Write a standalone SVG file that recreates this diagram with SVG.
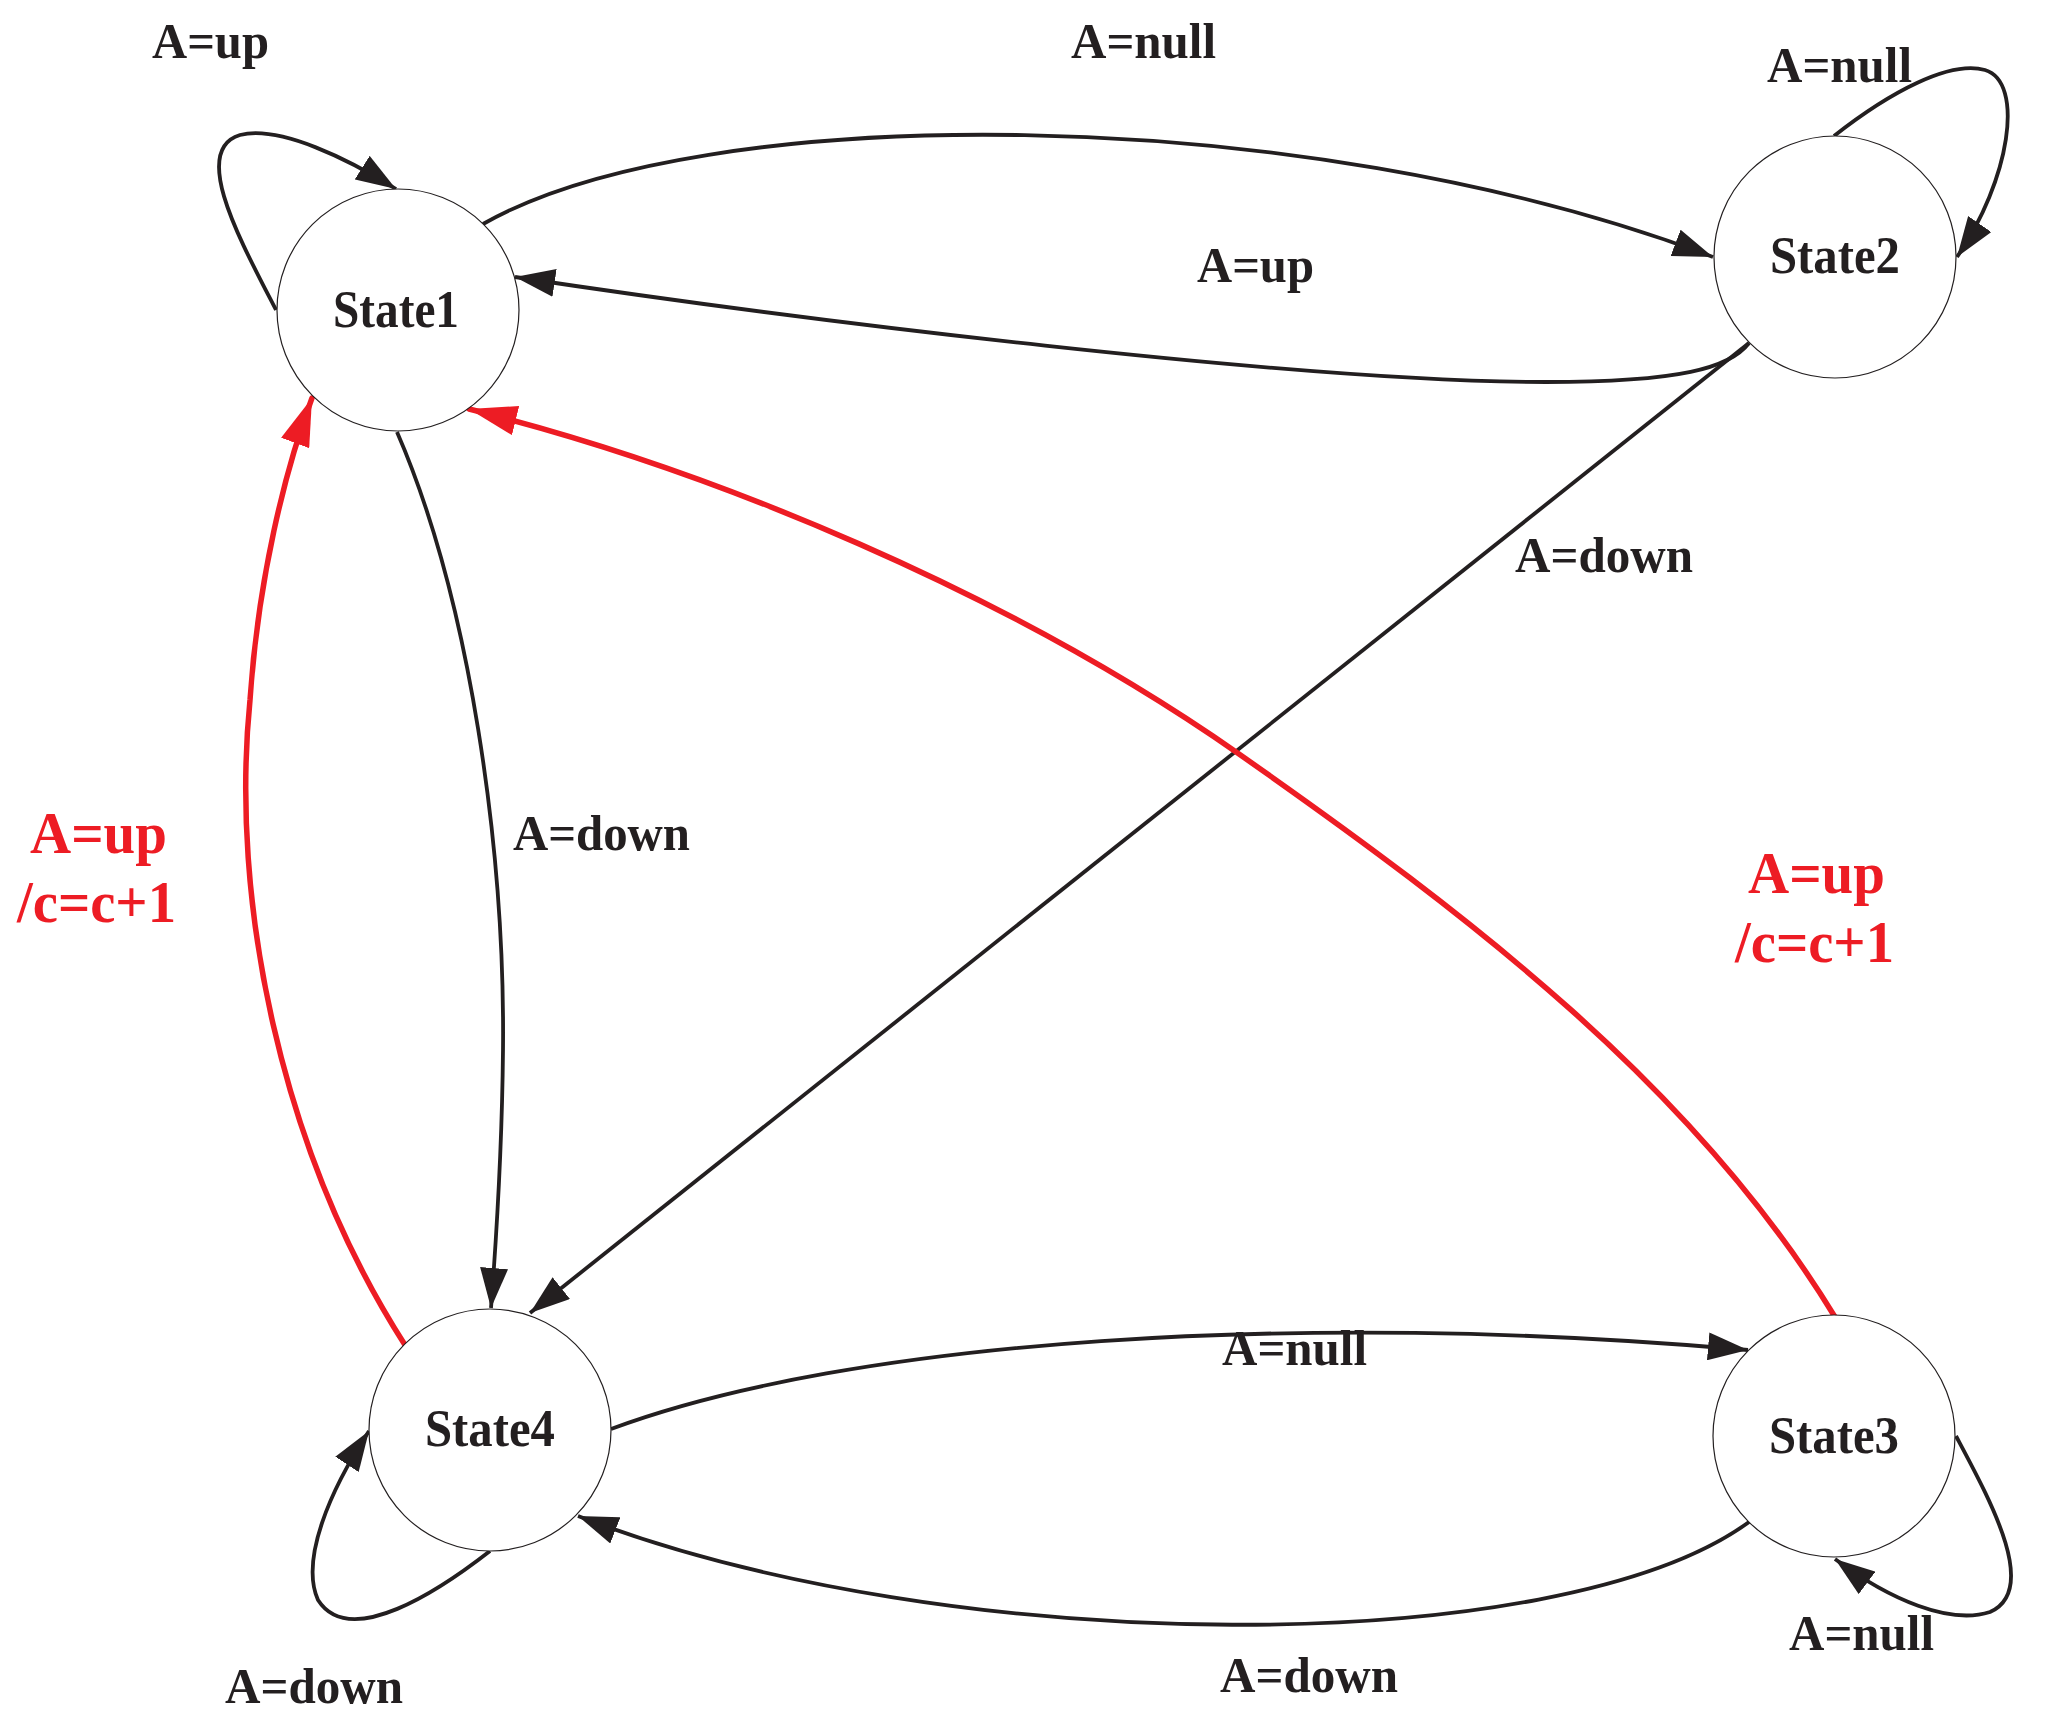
<svg xmlns="http://www.w3.org/2000/svg" width="2047" height="1725" viewBox="0 0 2047 1725">
<style>
.bg{fill:#ffffff}
.state circle{fill:#ffffff;stroke:#231f20;stroke-width:1.2}
.state text{font-family:"Liberation Serif","Times New Roman",serif;font-weight:bold;font-size:52px;fill:#231f20;text-anchor:middle}
.lbl{font-family:"Liberation Serif","Times New Roman",serif;font-weight:bold;font-size:50px;fill:#231f20}
.rlbl{font-family:"Liberation Serif","Times New Roman",serif;font-weight:bold;font-size:59px;fill:#ed1c24}
.edge{fill:none;stroke:#231f20;stroke-width:3.8;marker-end:url(#ab)}
.redge{fill:none;stroke:#ed1c24;stroke-width:5.5;stroke-linecap:round;marker-end:url(#ar)}
</style>
<defs>
<marker id="ab" markerUnits="userSpaceOnUse" markerWidth="40" markerHeight="28" refX="40" refY="14" orient="auto">
<path d="M0,0 L40,14 L0,28 z" fill="#231f20"/>
</marker>
<marker id="ar" markerUnits="userSpaceOnUse" markerWidth="48" markerHeight="30" refX="48" refY="15" orient="auto">
<path d="M0,0 L48,15 L0,30 z" fill="#ed1c24"/>
</marker>
</defs>
<rect class="bg" x="0" y="0" width="2047" height="1725"/>
<g id="connectors">
<path id="e-s1-self" class="edge" d="M276,310 C 240,240 190,150 240,135 C 280,125 350,160 396,189"/>
<path id="e-s1-s2" class="edge" d="M483,224 C 700,100 1300,100 1713,257"/>
<path id="e-s2-s1" class="edge" d="M1749,343 C 1730,368 1680,382 1546,382 C 1300,382 800,320 515,277"/>
<path id="e-s2-self" class="edge" d="M1834,136 C 1890,92 1950,60 1985,70 C 2025,82 2010,180 1957,257"/>
<path id="e-s2-s4" class="edge" d="M1749,343 L530,1313"/>
<path id="e-s1-s4" class="edge" d="M397,432 C 470,600 505,850 503,1050 C 502,1150 497,1230 491,1308"/>
<path id="e-s4-s1" class="redge" d="M405,1345 C 280,1150 230,900 250,700 C 258,580 285,470 312,398"/>
<path id="e-s3-s1" class="redge" d="M1835,1317 C 1695,1087 1469,915 1239,754 C 1009,593 711,469 469,409"/>
<path id="e-s4-s3" class="edge" d="M611,1429 C 850,1340 1300,1310 1748,1350"/>
<path id="e-s3-s4" class="edge" d="M1749,1522 C 1560,1660 950,1660 578,1516"/>
<path id="e-s3-self" class="edge" d="M1956,1436 C 1990,1500 2040,1590 1990,1612 C 1950,1625 1890,1600 1835,1559"/>
<path id="e-s4-self" class="edge" d="M490,1551 C 440,1590 350,1650 318,1600 C 300,1560 330,1490 369,1431"/>
</g>
<g id="labels">
<text class="lbl" x="152" y="58" textLength="117" lengthAdjust="spacingAndGlyphs">A=up</text>
<text class="lbl" x="1071" y="58" textLength="145" lengthAdjust="spacingAndGlyphs">A=null</text>
<text class="lbl" x="1767" y="82" textLength="145" lengthAdjust="spacingAndGlyphs">A=null</text>
<text class="lbl" x="1197" y="282" textLength="117" lengthAdjust="spacingAndGlyphs">A=up</text>
<text class="lbl" x="1515" y="572" textLength="178" lengthAdjust="spacingAndGlyphs">A=down</text>
<text class="lbl" x="513" y="850" textLength="177" lengthAdjust="spacingAndGlyphs">A=down</text>
<text class="rlbl" x="30" y="853" textLength="137" lengthAdjust="spacingAndGlyphs">A=up</text>
<text class="rlbl" x="17" y="922" textLength="159" lengthAdjust="spacingAndGlyphs">/c=c+1</text>
<text class="rlbl" x="1748" y="893" textLength="137" lengthAdjust="spacingAndGlyphs">A=up</text>
<text class="rlbl" x="1735" y="962" textLength="159" lengthAdjust="spacingAndGlyphs">/c=c+1</text>
<text class="lbl" x="1222" y="1365" textLength="145" lengthAdjust="spacingAndGlyphs">A=null</text>
<text class="lbl" x="1789" y="1650" textLength="145" lengthAdjust="spacingAndGlyphs">A=null</text>
<text class="lbl" x="1220" y="1692" textLength="178" lengthAdjust="spacingAndGlyphs">A=down</text>
<text class="lbl" x="225" y="1703" textLength="178" lengthAdjust="spacingAndGlyphs">A=down</text>
</g>
<g id="State1" class="state"><circle cx="398" cy="310" r="121"/><text x="396" y="327" textLength="126" lengthAdjust="spacingAndGlyphs">State1</text></g>
<g id="State2" class="state"><circle cx="1835" cy="257" r="121"/><text x="1835" y="273" textLength="130" lengthAdjust="spacingAndGlyphs">State2</text></g>
<g id="State3" class="state"><circle cx="1834" cy="1436" r="121"/><text x="1834" y="1453" textLength="130" lengthAdjust="spacingAndGlyphs">State3</text></g>
<g id="State4" class="state"><circle cx="490" cy="1430" r="121"/><text x="490" y="1446" textLength="130" lengthAdjust="spacingAndGlyphs">State4</text></g>
</svg>
